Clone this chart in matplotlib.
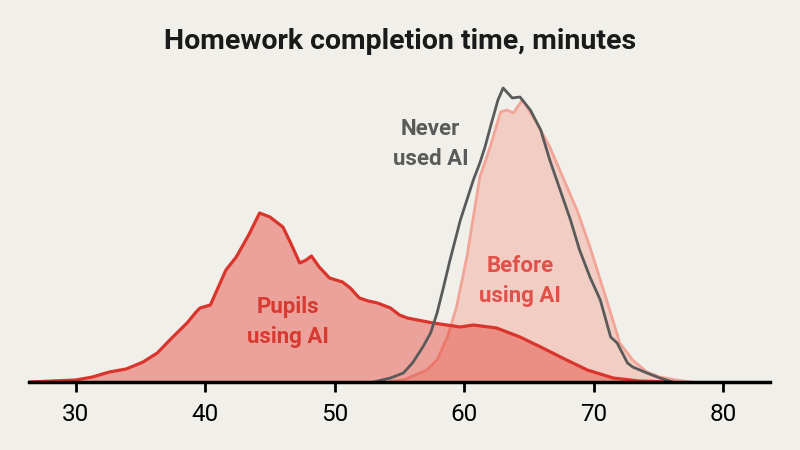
import matplotlib.pyplot as plt

plt.rcParams['font.family'] = ['Roboto', 'DejaVu Sans']

# density curves (relative heights)
pupils_x = [26.5, 30.0, 31.3, 32.6, 33.9, 35.2, 36.3, 37.5, 38.6, 39.3, 39.6, 40.4, 41.6, 42.4,
            43.4, 44.2, 45.0, 45.5, 46.0, 46.6, 47.3, 47.8, 48.2, 48.8, 49.6, 50.6, 51.2,
            51.9, 52.6, 53.3, 54.3, 55.0, 55.6, 57.6, 59.7, 60.7, 62.5, 64.3, 65.9, 67.9,
            69.5, 71.5, 73.5, 76.0]
pupils_y = [0, 2, 5, 10, 13, 20, 29, 45, 59, 70, 74, 77, 112, 125,
            148, 169, 165, 160, 155, 139, 119, 122, 126, 115, 104, 100, 94,
            84, 81, 79, 74, 67, 64, 59, 55, 57, 54, 45, 35, 22,
            12, 4, 1, 0]

never_x = [53.0, 54.3, 55.3, 56.0, 56.8, 57.4, 57.9, 58.4, 58.9, 59.7, 60.2, 60.7, 61.2,
           61.6, 62.1, 62.6, 63.0, 63.7, 64.3, 65.1, 65.9, 66.6, 67.4, 68.2, 68.9, 69.7,
           70.5, 71.3, 71.8, 72.6, 73.0, 74.1, 75.1, 76.1]
never_y = [0, 4, 9, 19, 35, 49, 69, 95, 122, 162, 182, 202, 219,
           235, 259, 282, 294, 284, 285, 272, 252, 222, 192, 162, 132, 105,
           82, 45, 39, 19, 15, 9, 4, 0]

before_x = [54.0, 55.3, 57.1, 57.9, 58.7, 59.4, 60.2, 60.7, 61.2, 62.0, 62.8, 63.3, 63.8,
            64.1, 64.5, 65.6, 66.6, 67.6, 68.7, 69.7, 70.5, 71.3, 72.0, 73.0, 74.1, 75.1,
            76.4, 77.5]
before_y = [0, 2, 12, 22, 45, 75, 125, 165, 205, 235, 270, 272, 269,
            275, 282, 259, 235, 205, 172, 135, 102, 69, 39, 22, 10, 5,
            2, 0]

ticks = [30, 40, 50, 60, 70, 80]

bg = "#f0efea"
fig = plt.figure(figsize=(8, 4.5), dpi=100, facecolor=bg)
ax = fig.add_axes([29 / 800, 68 / 450, 741 / 800, 322 / 450])
ax.set_facecolor(bg)

ax.fill_between(before_x, before_y, color="#f1cdc3", lw=0, zorder=1)
ax.plot(before_x, before_y, color="#f2a597", lw=2, zorder=2)
ax.fill_between(pupils_x, pupils_y, color="#e5392f", alpha=0.42, lw=0, zorder=3)
ax.plot(pupils_x, pupils_y, color="#d9352c", lw=2.3, zorder=4)
ax.plot(never_x, never_y, color="#5a5a5a", lw=2, zorder=5)

lab = dict(fontsize=16, fontweight="bold", ha="center", va="center", linespacing=1.45)
ax.text(46.4, 60, "Pupils\nusing AI", color="#d63a31", **lab)
ax.text(64.3, 101, "Before\nusing AI", color="#e0514a", **lab)
ax.text(57.4, 238, "Never\nused AI", color="#5a5a5a", **lab)

ax.set_xlim(26.4, 83.6)
ax.set_ylim(0, 322)
ax.set_xticks(ticks)
ax.set_yticks([])
for s in ["left", "right", "top"]:
    ax.spines[s].set_visible(False)
ax.spines["bottom"].set_linewidth(2.5)
ax.spines["bottom"].set_zorder(6)
ax.tick_params(axis="x", length=7, width=2, pad=8, labelsize=17.5, colors="black")

fig.text(0.5, 1 - 49 / 450, "Homework completion time, minutes", ha="center", va="baseline",
         fontsize=20.5, fontweight="bold", color="#1a1a1a")

fig.savefig("out.png", dpi=100, facecolor=bg)
